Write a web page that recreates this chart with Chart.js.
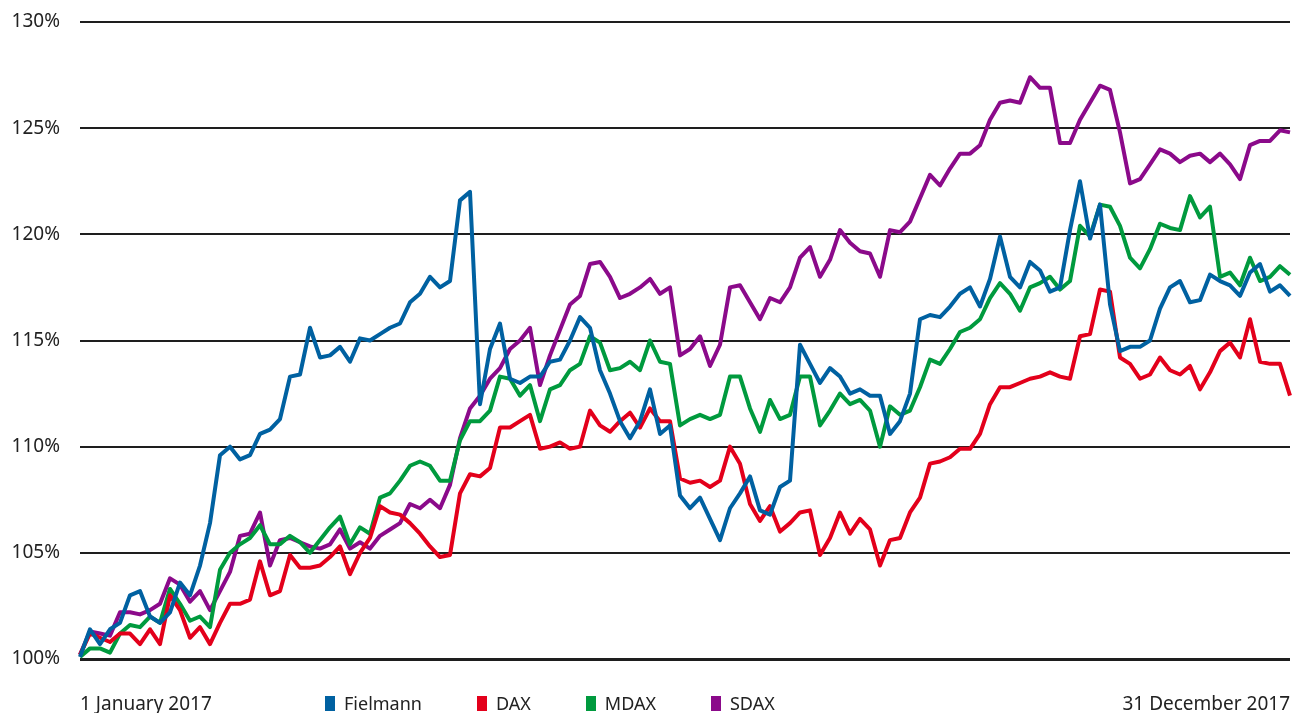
<!DOCTYPE html>
<html>
<head>
<meta charset="utf-8">
<script src="https://cdn.jsdelivr.net/npm/chart.js@4.4.0/dist/chart.umd.min.js"></script>
<style>
  html, body { margin: 0; padding: 0; background: #fff; }
  #wrap { position: relative; width: 1302px; height: 713px; }
  #legend {
    position: absolute; left: 325px; top: 693px;
    display: flex; gap: 55px;
    font: 18px "Noto Sans"; color: #222;
  }
  .item { display: flex; align-items: center; gap: 9px; line-height: 20px; }
  .swatch { width: 10px; height: 15px; }
</style>
</head>
<body>
<div id="wrap">
  <canvas id="perfChart" width="1302" height="713"></canvas>
  <div id="legend"></div>
</div>
<script>
// Performance indexed to 100% on 1 January 2017
const startLabel = '1 January 2017';
const endLabel = '31 December 2017';
const yTicks = [100, 105, 110, 115, 120, 125, 130];

const fielmann = [
  100.1, 101.4, 100.7, 101.4, 101.7, 103.0, 103.2, 102.0, 101.7, 102.2,
  103.6, 103.0, 104.4, 106.4, 109.6, 110.0, 109.4, 109.6, 110.6, 110.8,
  111.3, 113.3, 113.4, 115.6, 114.2, 114.3, 114.7, 114.0, 115.1, 115.0,
  115.3, 115.6, 115.8, 116.8, 117.2, 118.0, 117.5, 117.8, 121.6, 122.0,
  112.0, 114.6, 115.8, 113.2, 113.0, 113.3, 113.3, 114.0, 114.1, 115.0,
  116.1, 115.6, 113.6, 112.5, 111.2, 110.4, 111.2, 112.7, 110.6, 111.0,
  107.7, 107.1, 107.6, 106.6, 105.6, 107.1, 107.8, 108.6, 107.0, 106.8,
  108.1, 108.4, 114.8, 113.9, 113.0, 113.7, 113.3, 112.5, 112.7, 112.4,
  112.4, 110.6, 111.2, 112.5, 116.0, 116.2, 116.1, 116.6, 117.2, 117.5,
  116.6, 117.9, 119.9, 118.0, 117.5, 118.7, 118.3, 117.3, 117.5, 120.2,
  122.5, 119.8, 121.4, 116.7, 114.5, 114.7, 114.7, 115.0, 116.5, 117.5,
  117.8, 116.8, 116.9, 118.1, 117.8, 117.6, 117.1, 118.2, 118.6, 117.3,
  117.6, 117.1
];

const dax = [
  100.2, 101.2, 101.0, 100.8, 101.2, 101.2, 100.7, 101.4, 100.7, 103.0,
  102.3, 101.0, 101.5, 100.7, 101.7, 102.6, 102.6, 102.8, 104.6, 103.0,
  103.2, 104.9, 104.3, 104.3, 104.4, 104.8, 105.3, 104.0, 105.0, 105.7,
  107.2, 106.9, 106.8, 106.4, 105.9, 105.3, 104.8, 104.9, 107.8, 108.7,
  108.6, 109.0, 110.9, 110.9, 111.2, 111.5, 109.9, 110.0, 110.2, 109.9,
  110.0, 111.7, 111.0, 110.7, 111.2, 111.6, 110.9, 111.8, 111.2, 111.2,
  108.5, 108.3, 108.4, 108.1, 108.4, 110.0, 109.2, 107.3, 106.5, 107.2,
  106.0, 106.4, 106.9, 107.0, 104.9, 105.7, 106.9, 105.9, 106.6, 106.1,
  104.4, 105.6, 105.7, 106.9, 107.6, 109.2, 109.3, 109.5, 109.9, 109.9,
  110.6, 112.0, 112.8, 112.8, 113.0, 113.2, 113.3, 113.5, 113.3, 113.2,
  115.2, 115.3, 117.4, 117.3, 114.2, 113.9, 113.2, 113.4, 114.2, 113.6,
  113.4, 113.8, 112.7, 113.5, 114.5, 114.9, 114.2, 116.0, 114.0, 113.9,
  113.9, 112.4
];

const mdax = [
  100.1, 100.5, 100.5, 100.3, 101.2, 101.6, 101.5, 102.0, 101.7, 103.3,
  102.6, 101.8, 102.0, 101.5, 104.2, 105.0, 105.4, 105.7, 106.3, 105.4,
  105.4, 105.8, 105.5, 105.0, 105.6, 106.2, 106.7, 105.4, 106.2, 105.9,
  107.6, 107.8, 108.4, 109.1, 109.3, 109.1, 108.4, 108.4, 110.3, 111.2,
  111.2, 111.7, 113.3, 113.2, 112.4, 112.9, 111.2, 112.7, 112.9, 113.6,
  113.9, 115.2, 114.9, 113.6, 113.7, 114.0, 113.6, 115.0, 114.0, 113.9,
  111.0, 111.3, 111.5, 111.3, 111.5, 113.3, 113.3, 111.8, 110.7, 112.2,
  111.3, 111.5, 113.3, 113.3, 111.0, 111.7, 112.5, 112.0, 112.2, 111.7,
  110.0, 111.9, 111.5, 111.7, 112.8, 114.1, 113.9, 114.6, 115.4, 115.6,
  116.0, 117.0, 117.7, 117.2, 116.4, 117.5, 117.7, 118.0, 117.4, 117.8,
  120.4, 119.9, 121.4, 121.3, 120.4, 118.9, 118.4, 119.3, 120.5, 120.3,
  120.2, 121.8, 120.8, 121.3, 118.0, 118.2, 117.6, 118.9, 117.8, 118.0,
  118.5, 118.1
];

const sdax = [
  100.2, 101.3, 101.2, 101.1, 102.2, 102.2, 102.1, 102.3, 102.6, 103.8,
  103.5, 102.7, 103.2, 102.3, 103.2, 104.1, 105.8, 105.9, 106.9, 104.4,
  105.6, 105.7, 105.5, 105.3, 105.2, 105.4, 106.1, 105.2, 105.5, 105.2,
  105.8, 106.1, 106.4, 107.3, 107.1, 107.5, 107.1, 108.2, 110.4, 111.8,
  112.4, 113.2, 113.7, 114.6, 115.0, 115.6, 112.9, 114.3, 115.5, 116.7,
  117.1, 118.6, 118.7, 118.0, 117.0, 117.2, 117.5, 117.9, 117.2, 117.5,
  114.3, 114.6, 115.2, 113.8, 114.8, 117.5, 117.6, 116.8, 116.0, 117.0,
  116.8, 117.5, 118.9, 119.4, 118.0, 118.8, 120.2, 119.6, 119.2, 119.1,
  118.0, 120.2, 120.1, 120.6, 121.7, 122.8, 122.3, 123.1, 123.8, 123.8,
  124.2, 125.4, 126.2, 126.3, 126.2, 127.4, 126.9, 126.9, 124.3, 124.3,
  125.4, 126.2, 127.0, 126.8, 124.8, 122.4, 122.6, 123.3, 124.0, 123.8,
  123.4, 123.7, 123.8, 123.4, 123.8, 123.3, 122.6, 124.2, 124.4, 124.4,
  124.9, 124.8
];

const labels = fielmann.map((v, i) => i === 0 ? startLabel : (i === fielmann.length - 1 ? endLabel : ''));

const series = [
  { label: 'Fielmann', data: fielmann, color: '#0061a1' },
  { label: 'DAX', data: dax, color: '#e3001b' },
  { label: 'MDAX', data: mdax, color: '#009a3e' },
  { label: 'SDAX', data: sdax, color: '#8b0a8a' }
];

const fontFamily = '"Noto Sans", sans-serif';

const ctx = document.getElementById('perfChart').getContext('2d');
new Chart(ctx, {
  type: 'line',
  data: {
    labels: labels,
    datasets: series.map(s => ({
      label: s.label,
      data: s.data,
      borderColor: s.color,
      backgroundColor: s.color,
      borderWidth: 4,
      pointRadius: 0,
      tension: 0,
      borderJoinStyle: 'round',
      fill: false
    }))
  },
  options: {
    responsive: false,
    animation: false,
    layout: { padding: { top: 22, right: 12, left: 0, bottom: 0 } },
    plugins: {
      legend: { display: false },
      tooltip: { enabled: false }
    },
    scales: {
      x: {
        afterFit: scale => {
          scale.height = 54;
          scale.paddingLeft = 0;
          scale.paddingRight = 0;
        },
        grid: { display: false, drawTicks: false },
        border: { display: false },
        ticks: {
          autoSkip: false,
          maxRotation: 0,
          align: 'inner',
          padding: 34,
          color: '#222',
          font: { family: fontFamily, size: 19 }
        }
      },
      y: {
        min: 100,
        max: 130,
        afterFit: scale => {
          scale.width = 80;
          scale.paddingTop = 0;
          scale.paddingBottom = 0;
        },
        afterBuildTicks: scale => { scale.ticks = yTicks.map(v => ({ value: v })); },
        grid: {
          color: '#1e1e1e',
          lineWidth: c => c.tick && c.tick.value === 100 ? 3 : 2,
          drawTicks: false
        },
        border: { display: false },
        ticks: {
          padding: 20,
          color: '#222',
          font: { family: fontFamily, size: 19 },
          callback: v => v + '%'
        }
      }
    }
  }
});

// legend below the chart, as in the report layout
const legendBox = document.getElementById('legend');
series.forEach(s => {
  const item = document.createElement('div');
  item.className = 'item';
  const sw = document.createElement('span');
  sw.className = 'swatch';
  sw.style.background = s.color;
  const txt = document.createElement('span');
  txt.textContent = s.label;
  item.appendChild(sw);
  item.appendChild(txt);
  legendBox.appendChild(item);
});
</script>
</body>
</html>
